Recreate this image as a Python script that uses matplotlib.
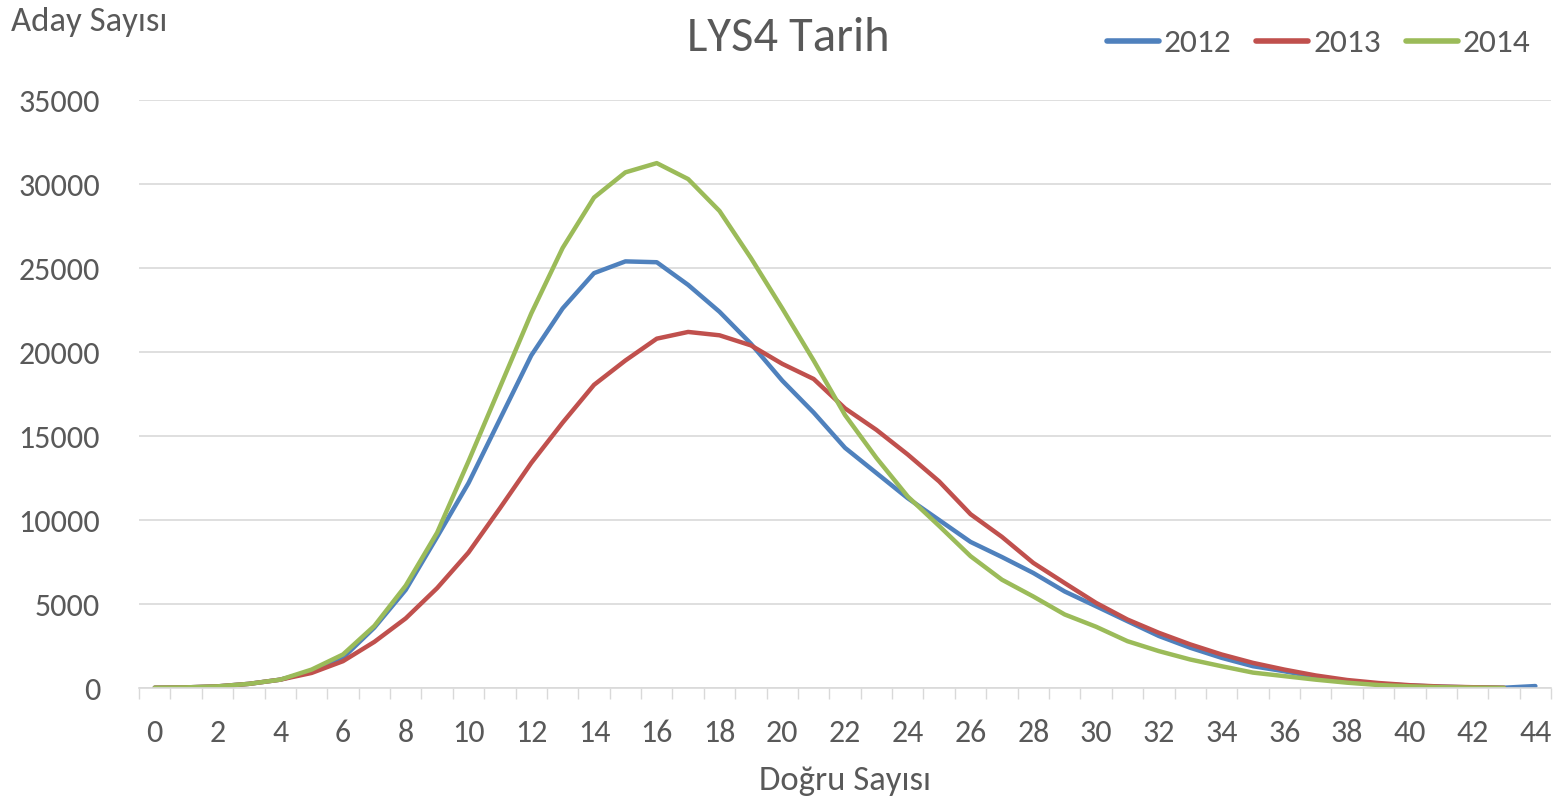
import numpy as np
import matplotlib
matplotlib.use('Agg')
import matplotlib.pyplot as plt

plt.rcParams['font.family'] = ['Carlito', 'Lato', 'DejaVu Sans']

dogru = list(range(45))

y2012 = [20, 40, 100, 250, 500, 1000, 1800, 3600, 5850, 9000,
         12200, 16000, 19800, 22600, 24700, 25400, 25350, 24000, 22400, 20500,
         18300, 16400, 14300, 12800, 11300, 10000, 8700, 7800, 6850, 5750,
         4870, 3980, 3100, 2400, 1800, 1300, 1000, 650, 420, 250,
         150, 80, 40, 20, 120]
y2013 = [20, 40, 100, 250, 500, 900, 1600, 2750, 4150, 5950,
         8070, 10700, 13400, 15800, 18050, 19500, 20800, 21200, 21000, 20400,
         19300, 18400, 16650, 15370, 13900, 12300, 10350, 9000, 7450, 6250,
         5070, 4080, 3290, 2600, 2000, 1500, 1100, 750, 480, 300,
         170, 90, 50, 20]
y2014 = [20, 40, 100, 250, 500, 1100, 2000, 3700, 6100, 9250,
         13500, 17900, 22300, 26200, 29200, 30700, 31250, 30300, 28400, 25600,
         22600, 19500, 16250, 13700, 11400, 9650, 7850, 6450, 5450, 4380,
         3650, 2790, 2200, 1700, 1300, 920, 710, 500, 320, 180,
         100, 50, 25, 10]

series = [('2012', y2012, '#4F81BD'),
          ('2013', y2013, '#C0504D'),
          ('2014', y2014, '#9BBB59')]

text_c = '#595959'
grid_c = '#D9D9D9'

fig = plt.figure(figsize=(15.62, 8.01), dpi=100)
ax = fig.add_axes([0.089, 0.141, 0.904, 0.734])

for name, vals, col in series:
    ax.plot(dogru[:len(vals)], vals, color=col, linewidth=3.2, label=name,
            solid_capstyle='round', solid_joinstyle='round')

ax.set_xlim(-0.5, 44.5)
ax.set_ylim(0, 35000)
ax.set_yticks(range(0, 35001, 5000))
ax.set_xticks(range(0, 45, 2))
ax.set_xticks(np.arange(-0.5, 45, 1), minor=True)
ax.tick_params(axis='x', which='major', length=0, pad=22, labelsize=23, colors=text_c)
ax.tick_params(axis='x', which='minor', length=8, width=1, color=grid_c)
ax.tick_params(axis='y', length=0, pad=28, labelsize=23, colors=text_c)
ax.grid(axis='y', color=grid_c, linewidth=1.2)
ax.set_axisbelow(True)
for s in ['top', 'right', 'left']:
    ax.spines[s].set_visible(False)
ax.spines['bottom'].set_color(grid_c)
ax.spines['bottom'].set_linewidth(1.2)

ax.set_xlabel('Doğru Sayısı', fontsize=25, color=text_c, labelpad=14)
fig.text(0.007, 0.973, 'Aday Sayısı', fontsize=25, color=text_c, ha='left', va='center')
fig.text(0.505, 0.952, 'LYS4 Tarih', fontsize=35, color=text_c, ha='center', va='center')

leg = fig.legend(loc='center right', bbox_to_anchor=(0.999, 0.946), ncol=3,
                 frameon=False, fontsize=24, handlelength=1.56, handletextpad=0.15,
                 columnspacing=0.75)
for t in leg.get_texts():
    t.set_color(text_c)
for h in leg.get_lines():
    h.set_linewidth(4)

plt.savefig('out.png', dpi=100)
